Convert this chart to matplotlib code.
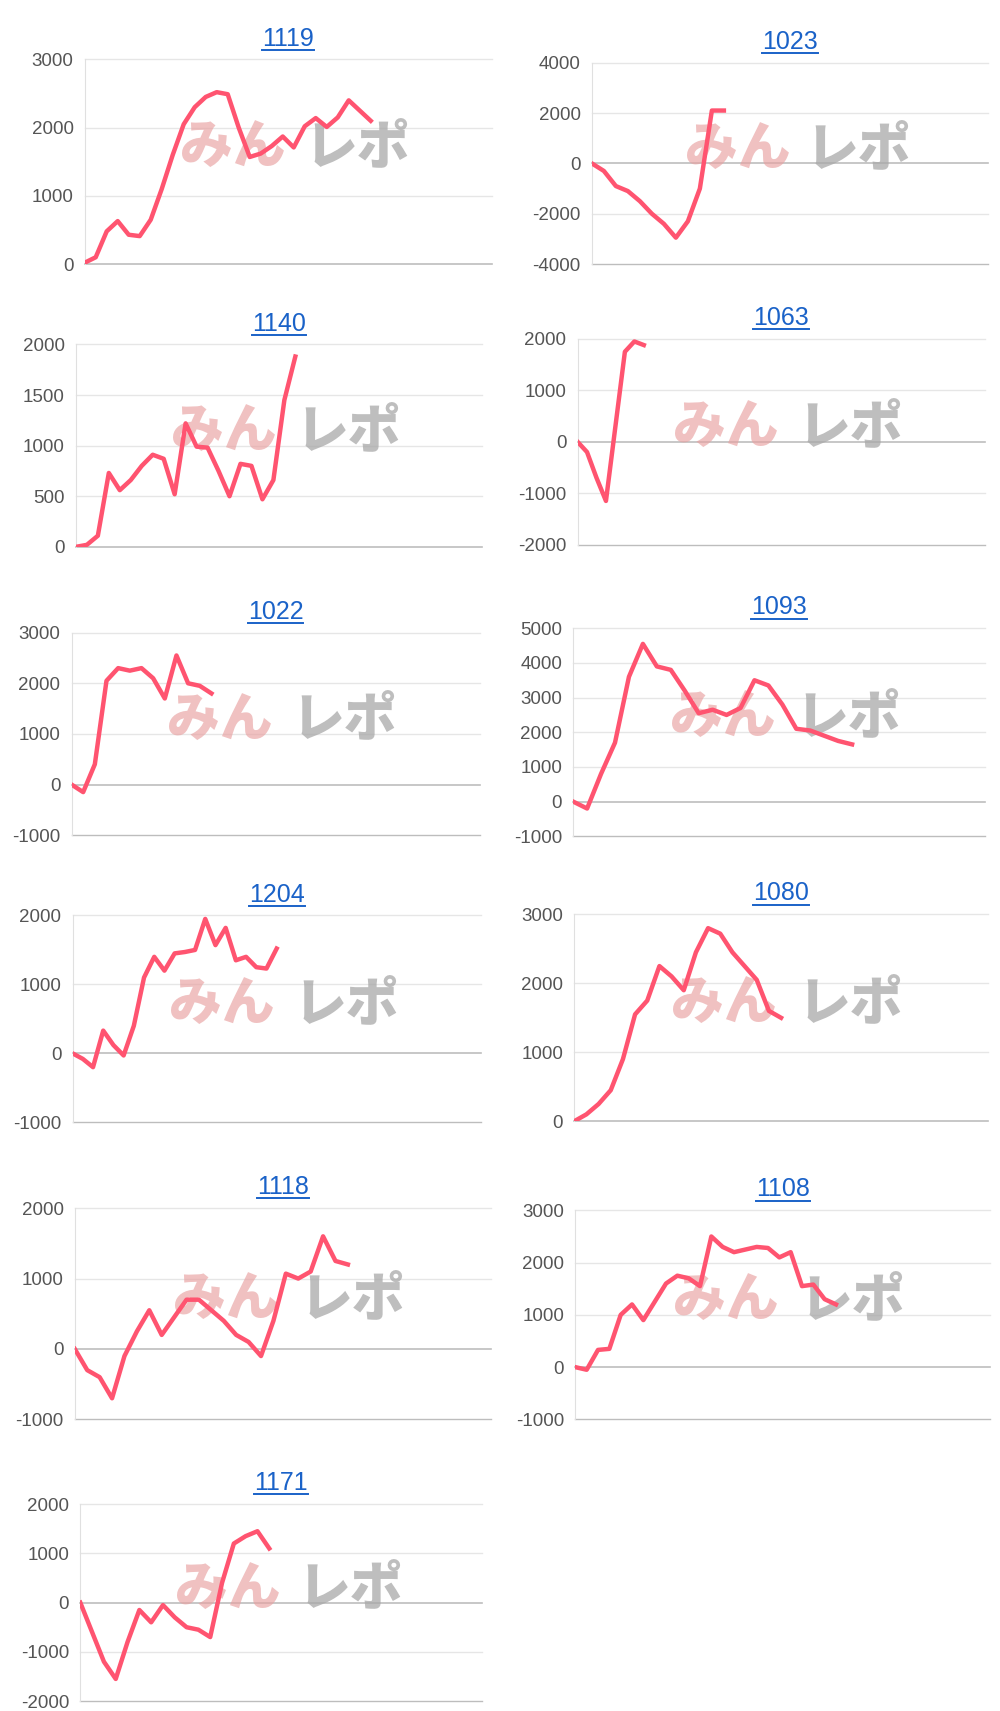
import matplotlib.pyplot as plt
from matplotlib.lines import Line2D

# ----------------------------- Data ------------------------------------------

NAMES = ["1119", "1023", "1140", "1063", "1022", "1093", "1204", "1080", "1118", "1108", "1171"]

V1119 = [20, 100, 480, 630, 430, 410, 650, 1100, 1600, 2050, 2300, 2450, 2520, 2490, 2000,
         1570, 1620, 1730, 1870, 1710, 2020, 2140, 2010, 2150, 2400, 2250, 2100]
V1023 = [0, -300, -900, -1100, -1500, -2000, -2400, -2950, -2300, -1000, 2100, 2100]
V1140 = [0, 20, 110, 730, 560, 660, 800, 910, 870, 520, 1220, 990, 980, 750, 500, 820, 800,
         470, 660, 1450, 1880]
V1063 = [0, -200, -700, -1150, 300, 1750, 1950, 1880]
V1022 = [0, -150, 400, 2050, 2300, 2250, 2300, 2100, 1700, 2550, 2000, 1950, 1800]
V1093 = [0, -200, 800, 1700, 3600, 4550, 3900, 3800, 3200, 2550, 2650, 2500, 2700, 3500, 3350,
         2800, 2100, 2050, 1900, 1750, 1650]
V1204 = [0, -80, -200, 330, 120, -30, 400, 1100, 1400, 1200, 1450, 1470, 1500, 1950, 1570,
         1820, 1350, 1400, 1250, 1230, 1520]
V1080 = [0, 100, 250, 450, 900, 1550, 1750, 2250, 2100, 1900, 2450, 2800, 2720, 2450, 2250,
         2050, 1600, 1500]
V1118 = [0, -300, -400, -700, -100, 250, 550, 200, 450, 700, 700, 550, 400, 200, 100, -100,
         400, 1070, 1000, 1100, 1600, 1250, 1200]
V1108 = [0, -50, 330, 350, 1000, 1200, 900, 1250, 1600, 1750, 1700, 1550, 2500, 2300, 2200,
         2250, 2300, 2280, 2100, 2200, 1550, 1580, 1300, 1200]
V1171 = [0, -600, -1200, -1550, -800, -150, -400, -50, -300, -500, -550, -700, 400, 1200,
         1350, 1450, 1100]

SERIES = [V1119, V1023, V1140, V1063, V1022, V1093, V1204, V1080, V1118, V1108, V1171]

YTICKS = [
    [0, 1000, 2000, 3000],
    [-4000, -2000, 0, 2000, 4000],
    [0, 500, 1000, 1500, 2000],
    [-2000, -1000, 0, 1000, 2000],
    [-1000, 0, 1000, 2000, 3000],
    [-1000, 0, 1000, 2000, 3000, 4000, 5000],
    [-1000, 0, 1000, 2000],
    [0, 1000, 2000, 3000],
    [-1000, 0, 1000, 2000],
    [-1000, 0, 1000, 2000, 3000],
    [-2000, -1000, 0, 1000, 2000],
]
# number of x slots on each axis
XSPAN = [37, 33, 37, 43, 35, 29.5, 40, 34, 33.5, 36.6, 34]

# ----------------------------- Layout ----------------------------------------

W, H = 909.0, 1555.0
# left, right, top, bottom (reference display px)
BOXES = [
    (77, 447, 54, 240), (538, 898, 57, 240),
    (69, 438, 313, 497), (525, 895, 308, 495),
    (65, 436, 575, 759), (521, 895, 571, 760),
    (66, 437, 832, 1020), (522, 898, 831, 1019),
    (68, 446, 1098, 1290), (523, 900, 1100, 1290),
    (73, 438, 1367, 1546),
]

LINE_COLOR = "#ff5470"
TITLE_COLOR = "#1a62c8"

plt.rcParams["font.family"] = ["Liberation Sans", "DejaVu Sans"]
plt.rcParams["axes.unicode_minus"] = False

fig = plt.figure(figsize=(10, 17.11), dpi=100)
titles = []

for name, vals, ticks, span, (l, r, t, b) in zip(NAMES, SERIES, YTICKS, XSPAN, BOXES):
    ax = fig.add_axes([l / W, 1 - b / H, (r - l) / W, (b - t) / H])
    ax.plot(range(len(vals)), vals, color=LINE_COLOR, linewidth=3.2, zorder=3)
    ax.set_xlim(0, span)
    ax.set_ylim(ticks[0], ticks[-1])
    ax.set_yticks(ticks)
    ax.set_xticks([])
    for v in ticks:
        c = "#bdbdbd" if v == 0 or v == ticks[0] else "#e6e6e6"
        ax.axhline(v, color=c, linewidth=1.2 if v == 0 else 1, zorder=1, clip_on=False)
    for side in ["top", "right", "bottom"]:
        ax.spines[side].set_visible(False)
    ax.spines["left"].set_color("#e0e0e0")
    ax.tick_params(axis="y", length=0, labelsize=13.5, labelcolor="#555555", pad=8)
    titles.append(ax.set_title(name, color=TITLE_COLOR, fontsize=18, pad=10))

    # watermark
    ax.text(0.235, 0.57, "みん", transform=ax.transAxes, fontsize=38, fontweight="black",
            style="italic", color="#e8a0a0", alpha=0.65, va="center", ha="left",
            family=["Noto Sans CJK JP"], zorder=2)
    ax.text(0.54, 0.57, "レポ", transform=ax.transAxes, fontsize=38, fontweight="black",
            style="italic", color="#a8a8a8", alpha=0.75, va="center", ha="left",
            family=["Noto Sans CJK JP"], zorder=2)

# underline the titles like links
fig.canvas.draw()
inv = fig.transFigure.inverted()
for tt in titles:
    bb = tt.get_window_extent().transformed(inv)
    y = bb.y0 + 0.0005
    fig.add_artist(Line2D([bb.x0, bb.x1], [y, y], color=TITLE_COLOR, linewidth=1.4))

fig.savefig("out.png", dpi=100)
